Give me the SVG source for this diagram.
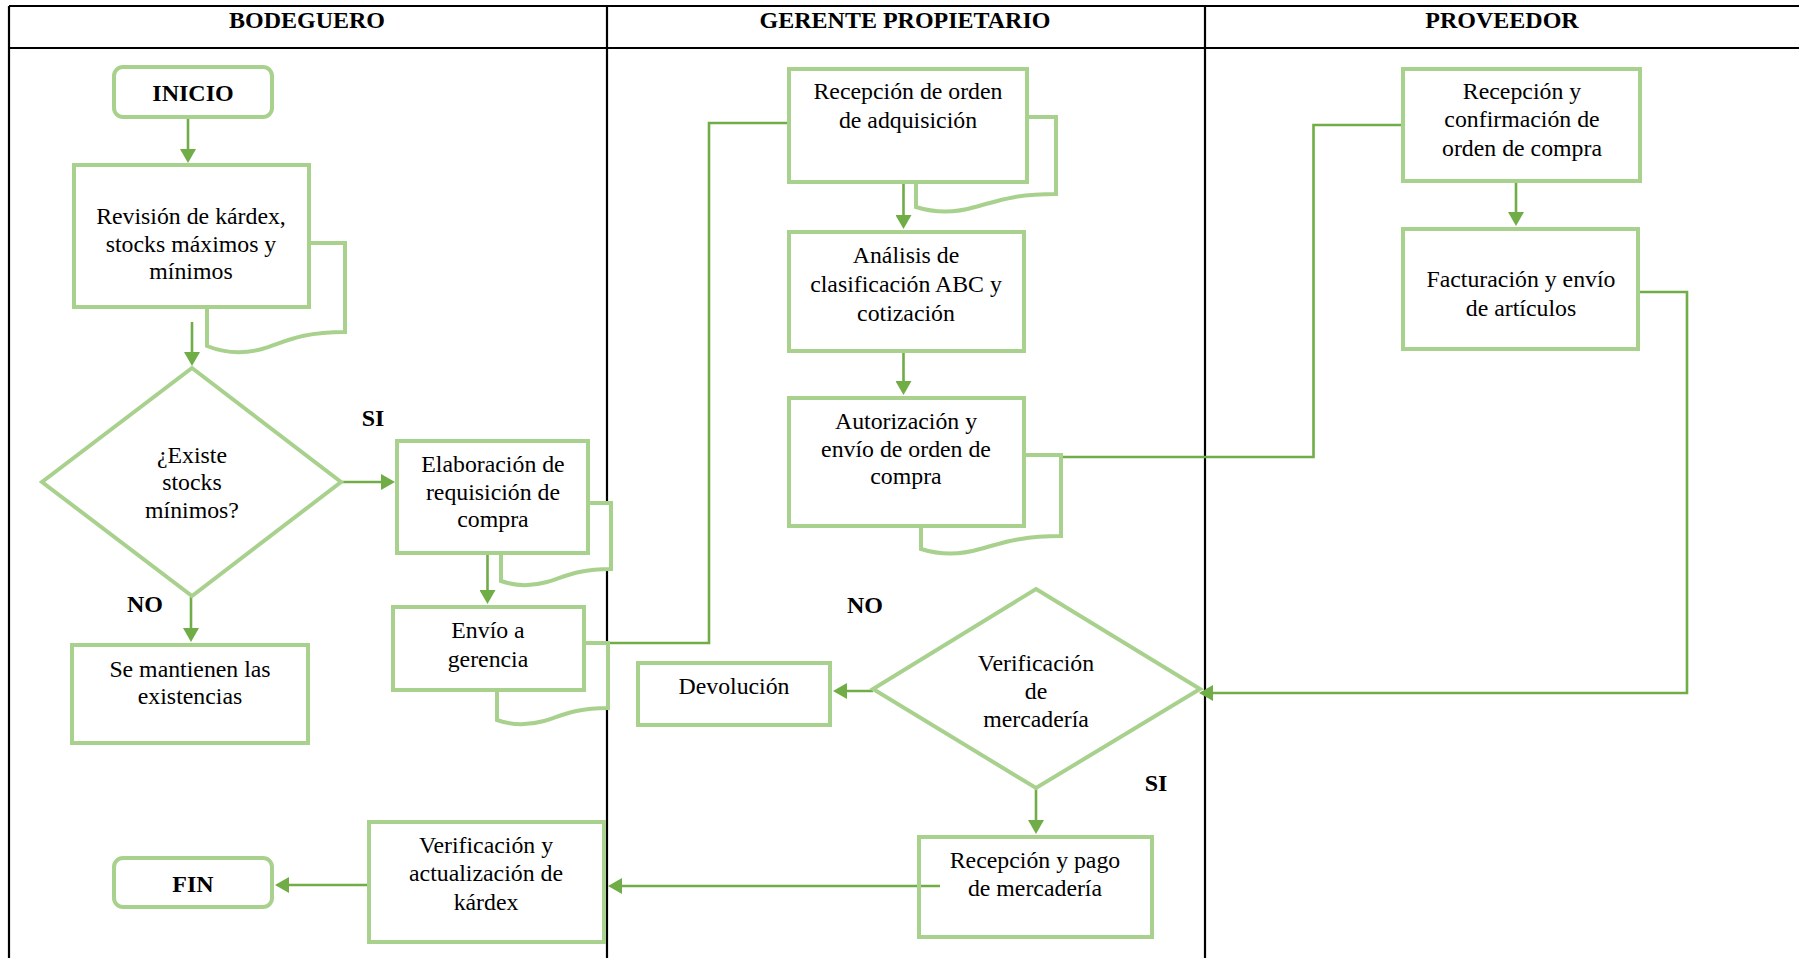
<svg xmlns="http://www.w3.org/2000/svg" width="1799" height="958" viewBox="0 0 1799 958">
<style>
.lane{stroke:#000;stroke-width:2.2;fill:none}
.hdr{font-family:"Liberation Serif","Times New Roman",serif;font-size:24px;font-weight:bold;text-anchor:middle;fill:#000}
.box{fill:#fff;stroke:#A9D18E;stroke-width:4}
.open{fill:none;stroke:#A9D18E;stroke-width:4}
.doc{fill:#fff;stroke:#A9D18E;stroke-width:4;stroke-linejoin:miter}
.t{font-family:"Liberation Serif","Times New Roman",serif;font-size:23.8px;text-anchor:middle;fill:#000}
.b{font-family:"Liberation Serif","Times New Roman",serif;font-size:24px;font-weight:bold;text-anchor:middle;fill:#000}
.c{fill:none;stroke:#70AD47;stroke-width:2.6}
.a{marker-end:url(#arr)}
</style>
<defs>
<marker id="arr" markerUnits="userSpaceOnUse" viewBox="0 0 14 16" refX="11" refY="8" markerWidth="14" markerHeight="16" orient="auto">
<path d="M0,0 L14,8 L0,16 Z" fill="#70AD47"/>
</marker>
</defs>
<rect width="1799" height="958" fill="#fff"/>
<g id="lanes">
<path class="lane" d="M9,6 H1799 M9,48 H1799 M9,6 V958 M607,6 V958 M1205,6 V958"/>
<text class="hdr" x="307" y="28">BODEGUERO</text>
<text class="hdr" x="905" y="28">GERENTE PROPIETARIO</text>
<text class="hdr" x="1502" y="28">PROVEEDOR</text>
</g>
<g id="connectors">
<path class="c a" d="M188,119 V160"/>
<path class="c a" d="M192,322 V363"/>
<path class="c a" d="M342,482 H392"/>
<path class="c a" d="M487.5,555 V601"/>
<path class="c a" d="M191,597 V639"/>
<path class="c" d="M608,643 H709 V123 H787"/>
<path class="c a" d="M903.5,184 V226"/>
<path class="c a" d="M903.5,353 V392"/>
<path class="c" d="M1057,457 H1313.5 V125 H1401"/>
<path class="c a" d="M1516,183 V223"/>
<path class="c a" d="M1640,292 H1687 V693 H1202"/>
<path class="c a" d="M873,691 H836"/>
<path class="c a" d="M1036,789 V831"/>
<path class="c a" d="M940,886 H611"/>
<path class="c a" d="M367,885 H278"/>
</g>
<g id="inicio">
<rect class="box" x="114" y="67" width="158" height="50" rx="9"/>
<text class="b" x="193" y="101">INICIO</text>
</g>
<g id="revision">
<path class="doc" d="M207,243 H345 V332 C300,332 285,342 262,349 C240,355 222,352 207,346 Z"/>
<rect class="box" x="74" y="165" width="235" height="142"/>
<text class="t" x="191" y="224">Revisión de kárdex,</text>
<text class="t" x="191" y="252">stocks máximos y</text>
<text class="t" x="191" y="279">mínimos</text>
</g>
<g id="existe">
<polygon class="box" points="192,368 341,482 192,596 42,482"/>
<text class="t" x="192" y="463">¿Existe</text>
<text class="t" x="192" y="490">stocks</text>
<text class="t" x="192" y="518">mínimos?</text>
</g>
<g id="lbl-si1"><text class="b" x="373" y="426">SI</text></g>
<g id="lbl-no1"><text class="b" x="145" y="612">NO</text></g>
<g id="elaboracion">
<path class="doc" d="M501,503 H611 V569 C577,569 564,577 547,582 C529,587 515,586 501,581 Z"/>
<rect class="box" x="397" y="441" width="191" height="112"/>
<text class="t" x="493" y="472">Elaboración de</text>
<text class="t" x="493" y="500">requisición de</text>
<text class="t" x="493" y="527">compra</text>
</g>
<g id="envio">
<path class="doc" d="M497,643 H608 V708 C574,708 561,716 544,721 C526,726 511,725 497,720 Z"/>
<rect class="box" x="393" y="607" width="191" height="83"/>
<text class="t" x="488" y="638">Envío a</text>
<text class="t" x="488" y="667">gerencia</text>
</g>
<g id="mantienen">
<rect class="box" x="72" y="645" width="236" height="98"/>
<text class="t" x="190" y="677">Se mantienen las</text>
<text class="t" x="190" y="704">existencias</text>
</g>
<g id="fin">
<rect class="box" x="114" y="858" width="158" height="49" rx="9"/>
<text class="b" x="193" y="892">FIN</text>
</g>
<g id="actualizacion">
<rect class="box" x="369" y="822" width="235" height="120"/>
<text class="t" x="486" y="853">Verificación y</text>
<text class="t" x="486" y="881">actualización de</text>
<text class="t" x="486" y="910">kárdex</text>
</g>
<g id="recepcion-orden">
<path class="doc" d="M916,117 H1056 V194 C1012,194 995,202 975,207 C955,213 935,213 916,207 Z"/>
<rect class="box" x="789" y="69" width="238" height="113"/>
<text class="t" x="908" y="99">Recepción de orden</text>
<text class="t" x="908" y="128">de adquisición</text>
</g>
<g id="analisis">
<rect class="box" x="789" y="232" width="235" height="119"/>
<text class="t" x="906" y="263">Análisis de</text>
<text class="t" x="906" y="292">clasificación ABC y</text>
<text class="t" x="906" y="321">cotización</text>
</g>
<g id="autorizacion">
<path class="doc" d="M921,455 H1061 V536 C1017,536 1000,544 980,549 C960,555 940,555 921,549 Z"/>
<rect class="box" x="789" y="398" width="235" height="128"/>
<text class="t" x="906" y="429">Autorización y</text>
<text class="t" x="906" y="457">envío de orden de</text>
<text class="t" x="906" y="484">compra</text>
</g>
<g id="lbl-no2"><text class="b" x="865" y="613">NO</text></g>
<g id="devolucion">
<rect class="box" x="638" y="663" width="192" height="62"/>
<text class="t" x="734" y="694">Devolución</text>
</g>
<g id="verificacion">
<polygon class="box" points="1036,589 1200,689 1036,788 873,689"/>
<text class="t" x="1036" y="671">Verificación</text>
<text class="t" x="1036" y="699">de</text>
<text class="t" x="1036" y="727">mercadería</text>
</g>
<g id="lbl-si2"><text class="b" x="1156" y="791">SI</text></g>
<g id="recepcion-pago">
<rect class="open" x="919" y="837" width="233" height="100"/>
<text class="t" x="1035" y="868">Recepción y pago</text>
<text class="t" x="1035" y="896">de mercadería</text>
</g>
<g id="confirmacion">
<rect class="box" x="1403" y="69" width="237" height="112"/>
<text class="t" x="1522" y="99">Recepción y</text>
<text class="t" x="1522" y="127">confirmación de</text>
<text class="t" x="1522" y="156">orden de compra</text>
</g>
<g id="facturacion">
<rect class="box" x="1403" y="229" width="235" height="120"/>
<text class="t" x="1521" y="287">Facturación y envío</text>
<text class="t" x="1521" y="316">de artículos</text>
</g>
</svg>
